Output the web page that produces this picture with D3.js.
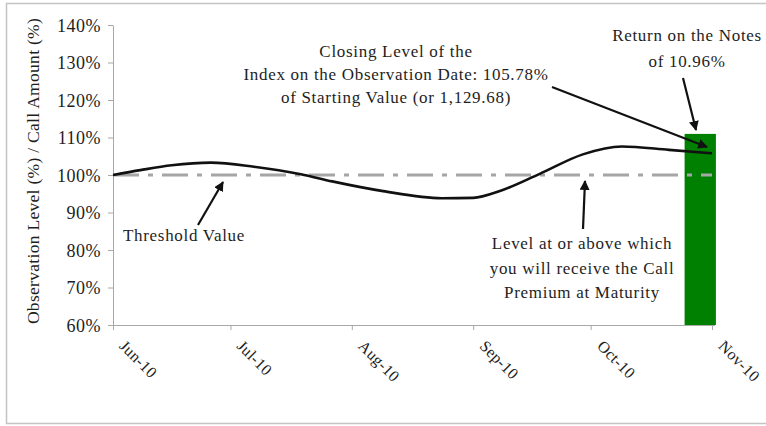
<!DOCTYPE html>
<html>
<head>
<meta charset="utf-8">
<script src="https://cdn.jsdelivr.net/npm/d3@7"></script>
<style>
  body { margin: 0; background: #fff; }
  text { font-family: "Liberation Serif", "DejaVu Serif", serif; fill: #1e1e1e; }
</style>
</head>
<body>
<div id="chart"></div>
<script>
// index path, % of starting value
const obsDates  = ["2010-06-01","2010-06-08","2010-06-16","2010-06-26","2010-07-07","2010-07-19","2010-07-27","2010-08-09","2010-08-24","2010-09-01","2010-09-08","2010-09-18","2010-09-29","2010-10-09","2010-10-21","2010-11-01"]
const obsLevels = [100, 101.3, 102.6, 103.3, 102.2, 100.2, 98.3, 95.7, 93.8, 93.9, 95.8, 100.3, 105.5, 107.6, 106.7, 105.78]

const monthTicks  = ["2010-06-01","2010-07-01","2010-08-01","2010-09-01","2010-10-01","2010-11-01"]
const monthLabels = ["Jun-10","Jul-10","Aug-10","Sep-10","Oct-10","Nov-10"]
const yTicks = [60, 70, 80, 90, 100, 110, 120, 130, 140]

const thresholdLevel = 100
const returnBar = ["2010-10-25", "2010-11-02"]   // date span of the green column
const returnLevel = 110.96

var parse = d3.timeParse("%Y-%m-%d")

var margin = {top: 25, left: 113},
    width = 599,
    height = 300

var svg = d3.select("#chart").append("svg")
    .attr("width", 766)
    .attr("height", 426)

// outer frame
svg.append("path")
  .attr("d", "M770,3.5 H6.5 V423.5 H770")
  .attr("fill", "none")
  .attr("stroke", "#c4c4c4")
  .attr("stroke-width", 1.5)

var defs = svg.append("defs")
defs.append("marker")
    .attr("id", "arr")
    .attr("viewBox", "0 0 10 10")
    .attr("refX", 9).attr("refY", 5)
    .attr("markerWidth", 4.5).attr("markerHeight", 4.5)
    .attr("orient", "auto")
  .append("path")
    .attr("d", "M0,0 L10,5 L0,10 z")
    .attr("fill", "#111")

var g = svg.append("g")
    .attr("transform", "translate(" + margin.left + "," + margin.top + ")")

var x = d3.scaleTime()
    .domain([parse(monthTicks[0]), parse(monthTicks[monthTicks.length - 1])])
    .range([0, width])

var y = d3.scaleLinear()
    .domain([60, 140])
    .range([height, 0])

// green column
g.append("rect")
  .attr("x", x(parse(returnBar[0])))
  .attr("y", y(returnLevel))
  .attr("width", x(parse(returnBar[1])) - x(parse(returnBar[0])))
  .attr("height", y(60) - y(returnLevel))
  .attr("fill", "#008000")

// axes
var yAxis = g.append("g")
    .call(d3.axisLeft(y).tickValues(yTicks).tickSize(5).tickSizeOuter(0)
      .tickFormat(function(d){ return d + "%" }))
yAxis.selectAll("text")
  .style("font-size", "18px").style("letter-spacing", "0.5px")
  .attr("x", -12).attr("dy", "0.35em")

var xAxis = g.append("g")
    .attr("transform", "translate(0," + height + ")")
    .call(d3.axisBottom(x).tickValues(monthTicks.map(parse)).tickSize(5).tickSizeOuter(0)
      .tickFormat(function(d, i){ return monthLabels[i] }))
xAxis.select(".domain").attr("d", "M0,0.5 H" + (width + 3))
xAxis.selectAll("text")
  .style("font-size", "16px").style("letter-spacing", "0.3px")
  .attr("text-anchor", "start")
  .attr("y", 0).attr("dy", 0)
  .attr("transform", "translate(5,22) rotate(45)")

svg.selectAll(".domain, .tick line").attr("stroke", "#a8a8a8")

// threshold
g.append("line")
  .attr("x1", 0).attr("x2", width)
  .attr("y1", y(thresholdLevel)).attr("y2", y(thresholdLevel))
  .attr("stroke", "#a6a6a6")
  .attr("stroke-width", 3)
  .attr("stroke-dasharray", "26,9,5,9")

// index line
var line = d3.line()
    .x(function(d){ return x(parse(d[0])) })
    .y(function(d){ return y(d[1]) })
    .curve(d3.curveMonotoneX)

g.append("path")
  .datum(d3.zip(obsDates, obsLevels))
  .attr("d", line)
  .attr("fill", "none")
  .attr("stroke", "#111")
  .attr("stroke-width", 2.6)

// y title
svg.append("text")
  .attr("transform", "translate(39,171) rotate(-90)")
  .attr("text-anchor", "middle")
  .style("font-size", "17.5px").style("letter-spacing", "0.3px")
  .text("Observation Level (%) / Call Amount (%)")

// annotations
function label(lines, cx, cy, step) {
  var t = svg.append("text").attr("text-anchor", "middle")
    .style("font-size", "17px").style("letter-spacing", "0.7px")
  lines.forEach(function(s, i){
    t.append("tspan").attr("x", cx).attr("y", cy + i * step).text(s)
  })
}
function arrow(x1, y1, x2, y2) {
  svg.append("line")
    .attr("x1", x1).attr("y1", y1).attr("x2", x2).attr("y2", y2)
    .attr("stroke", "#111").attr("stroke-width", 2.2)
    .attr("marker-end", "url(#arr)")
}

label(["Closing Level of the", "Index on the Observation Date: 105.78%", "of Starting Value (or 1,129.68)"], 396, 57, 23)
label(["Return on the Notes", "of 10.96%"], 687, 41, 26)
label(["Threshold Value"], 184, 241, 0)
label(["Level at or above which", "you will receive the Call", "Premium at Maturity"], 582, 249, 24.5)

arrow(552, 87, 707, 147)
arrow(683, 78, 696, 130)
arrow(198, 225, 223, 182)
arrow(583, 229, 585, 181)
</script>
</body>
</html>
